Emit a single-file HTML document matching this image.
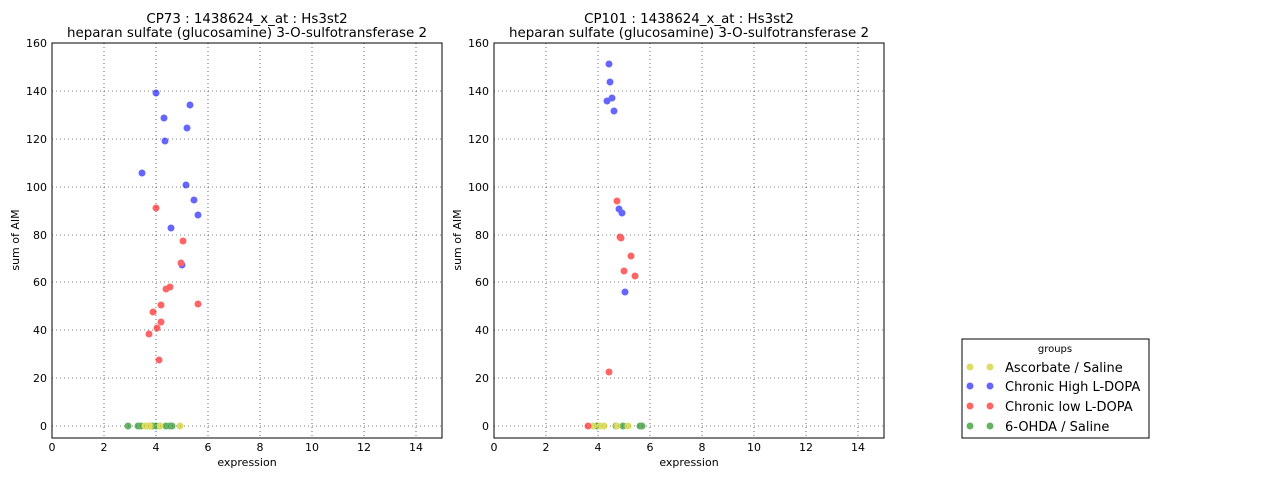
<!DOCTYPE html>
<html><head><style>body{margin:0;background:#fff}</style></head><body>
<svg width="1280" height="480" xmlns="http://www.w3.org/2000/svg" font-family="DejaVu Sans, Liberation Sans, sans-serif">
<rect width="1280" height="480" fill="#fff"/>
<defs>
<g id="grid">
<g stroke="#000" stroke-dasharray="1,3" stroke-width="0.6">
<line x1="104" y1="43" x2="104" y2="438"/><line x1="156" y1="43" x2="156" y2="438"/><line x1="208" y1="43" x2="208" y2="438"/><line x1="260" y1="43" x2="260" y2="438"/><line x1="312" y1="43" x2="312" y2="438"/><line x1="364" y1="43" x2="364" y2="438"/><line x1="416" y1="43" x2="416" y2="438"/>
<line x1="52" y1="426" x2="442" y2="426"/><line x1="52" y1="378" x2="442" y2="378"/><line x1="52" y1="330" x2="442" y2="330"/><line x1="52" y1="282" x2="442" y2="282"/><line x1="52" y1="235" x2="442" y2="235"/><line x1="52" y1="187" x2="442" y2="187"/><line x1="52" y1="139" x2="442" y2="139"/><line x1="52" y1="91" x2="442" y2="91"/>
</g>
<rect x="52" y="43" width="390" height="395" fill="none" stroke="#000"/>
<g font-size="11" text-anchor="middle">
<text x="52" y="451">0</text><text x="104" y="451">2</text><text x="156" y="451">4</text><text x="208" y="451">6</text><text x="260" y="451">8</text><text x="312" y="451">10</text><text x="364" y="451">12</text><text x="416" y="451">14</text>
</g>
<g font-size="11" text-anchor="end">
<text x="47" y="430">0</text><text x="47" y="382">20</text><text x="47" y="334">40</text><text x="47" y="286">60</text><text x="47" y="239">80</text><text x="47" y="191">100</text><text x="47" y="143">120</text><text x="47" y="95">140</text><text x="47" y="47">160</text>
</g>
<text x="247" y="466" font-size="11" text-anchor="middle">expression</text>
<text transform="translate(19,240) rotate(-90)" font-size="11" text-anchor="middle">sum of AIM</text>
</g>
</defs>
<use href="#grid"/>
<use href="#grid" transform="translate(442,0)"/>
<g font-size="13.4" text-anchor="middle">
<text x="247" y="23">CP73 : 1438624_x_at : Hs3st2</text>
<text x="247" y="37">heparan sulfate (glucosamine) 3-O-sulfotransferase 2</text>
<text x="689" y="23">CP101 : 1438624_x_at : Hs3st2</text>
<text x="689" y="37">heparan sulfate (glucosamine) 3-O-sulfotransferase 2</text>
</g>
<g opacity="0.6">
<g fill="#008000">
<circle cx="128" cy="426" r="3.5"/><circle cx="138" cy="426" r="3.5"/><circle cx="141" cy="426" r="3.5"/><circle cx="152" cy="426" r="3.5"/><circle cx="156" cy="426" r="3.5"/><circle cx="160" cy="426" r="3.5"/><circle cx="166" cy="426" r="3.5"/><circle cx="170" cy="426" r="3.5"/><circle cx="172" cy="426" r="3.5"/>
<circle cx="597" cy="426" r="3.5"/><circle cx="616" cy="426" r="3.5"/><circle cx="623" cy="426" r="3.5"/><circle cx="640" cy="426" r="3.5"/><circle cx="642" cy="426" r="3.5"/>
</g>
<g fill="#c8c800">
<circle cx="145" cy="426" r="3.5"/><circle cx="148" cy="426" r="3.5"/><circle cx="150" cy="426" r="3.5"/><circle cx="160" cy="426" r="3.5"/><circle cx="180" cy="426" r="3.5"/>
<circle cx="593" cy="426" r="3.5"/><circle cx="600" cy="426" r="3.5"/><circle cx="604" cy="426" r="3.5"/><circle cx="617" cy="426" r="3.5"/><circle cx="628" cy="426" r="3.5"/>
</g>
<g fill="#0000ff">
<circle cx="156" cy="93" r="3.5"/><circle cx="190" cy="105" r="3.5"/><circle cx="164" cy="118" r="3.5"/><circle cx="187" cy="128" r="3.5"/><circle cx="165" cy="141" r="3.5"/><circle cx="142" cy="173" r="3.5"/><circle cx="186" cy="185" r="3.5"/><circle cx="194" cy="200" r="3.5"/><circle cx="198" cy="215" r="3.5"/><circle cx="171" cy="228" r="3.5"/><circle cx="182" cy="265" r="3.5"/>
<circle cx="609" cy="64" r="3.5"/><circle cx="610" cy="82" r="3.5"/><circle cx="612" cy="98" r="3.5"/><circle cx="607" cy="101" r="3.5"/><circle cx="614" cy="111" r="3.5"/><circle cx="619" cy="209" r="3.5"/><circle cx="622" cy="213" r="3.5"/><circle cx="625" cy="292" r="3.5"/>
</g>
<g fill="#ff0000">
<circle cx="156" cy="208" r="3.5"/><circle cx="183" cy="241" r="3.5"/><circle cx="181" cy="263" r="3.5"/><circle cx="170" cy="287" r="3.5"/><circle cx="166" cy="289" r="3.5"/><circle cx="198" cy="304" r="3.5"/><circle cx="161" cy="305" r="3.5"/><circle cx="153" cy="312" r="3.5"/><circle cx="161" cy="322" r="3.5"/><circle cx="157" cy="328" r="3.5"/><circle cx="149" cy="334" r="3.5"/><circle cx="159" cy="360" r="3.5"/>
<circle cx="617" cy="201" r="3.5"/><circle cx="620" cy="237" r="3.5"/><circle cx="621" cy="238" r="3.5"/><circle cx="631" cy="256" r="3.5"/><circle cx="624" cy="271" r="3.5"/><circle cx="635" cy="276" r="3.5"/><circle cx="609" cy="372" r="3.5"/><circle cx="588" cy="426" r="3.5"/>
</g>
</g>
<rect x="962" y="339" width="187" height="99" fill="#fff" stroke="#000"/>
<text x="1055" y="352" font-size="10" text-anchor="middle">groups</text>
<g opacity="0.6">
<circle cx="970" cy="367" r="3.5" fill="#c8c800"/><circle cx="990" cy="367" r="3.5" fill="#c8c800"/>
<circle cx="970" cy="386" r="3.5" fill="#0000ff"/><circle cx="990" cy="386" r="3.5" fill="#0000ff"/>
<circle cx="970" cy="406" r="3.5" fill="#ff0000"/><circle cx="990" cy="406" r="3.5" fill="#ff0000"/>
<circle cx="970" cy="426" r="3.5" fill="#008000"/><circle cx="990" cy="426" r="3.5" fill="#008000"/>
</g>
<g font-size="13">
<text x="1005" y="372">Ascorbate / Saline</text>
<text x="1005" y="391">Chronic High L-DOPA</text>
<text x="1005" y="411">Chronic low L-DOPA</text>
<text x="1005" y="431">6-OHDA / Saline</text>
</g>
</svg>
</body></html>
